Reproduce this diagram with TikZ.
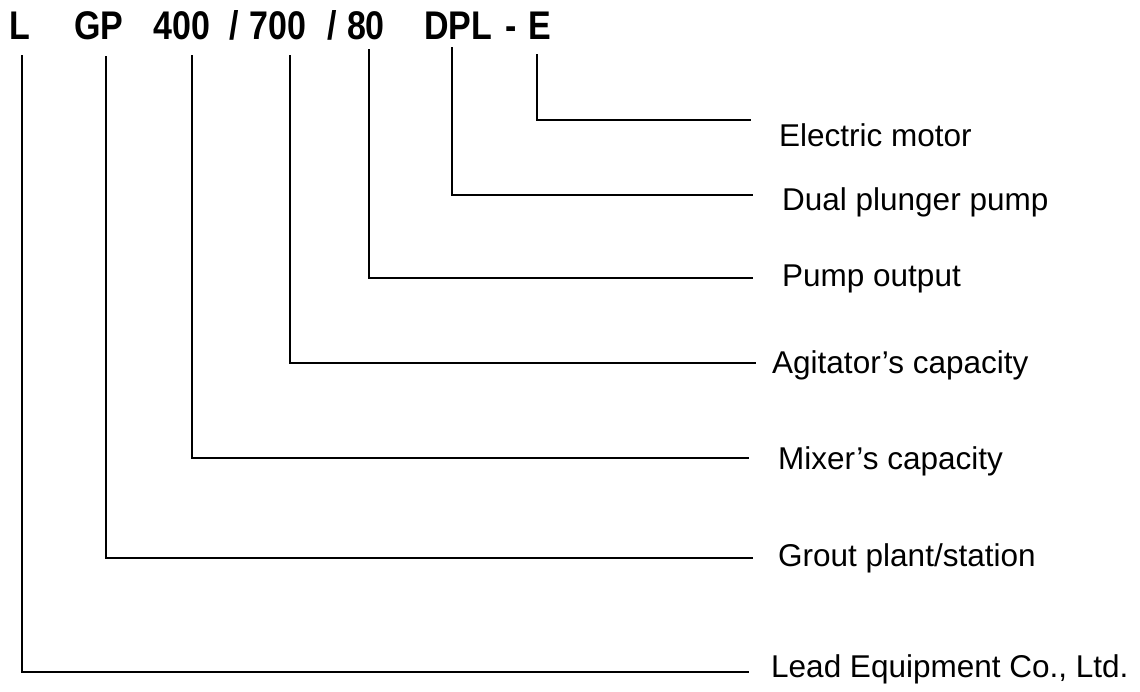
\documentclass[tikz,border=0pt]{standalone}
\usepackage{fontspec}
\setmainfont{Liberation Sans}
\newcommand{\hdrtxt}[1]{\scalebox{0.85}[1]{#1}}
\begin{document}
\begin{tikzpicture}[x=1pt,y=-1pt,
  hdr/.style={inner sep=0pt, anchor=base, font=\fontsize{40}{44}\selectfont\bfseries},
  lab/.style={inner sep=0pt, anchor=west, font=\fontsize{31.5}{36}\selectfont},
  lead/.style={line width=1.6pt, line cap=rect}]
\useasboundingbox (0,0) rectangle (1140,692);
% header code
\node[hdr] (hL)   at (20,40)  {\hdrtxt{L}};
\node[hdr] (hGP)  at (99,40)  {\hdrtxt{GP}};
\node[hdr] (h400) at (182,40) {\hdrtxt{400}};
\node[hdr] (hs1)  at (234,40) {\hdrtxt{/}};
\node[hdr] (h700) at (278,40) {\hdrtxt{700}};
\node[hdr] (hs2)  at (332,40) {\hdrtxt{/}};
\node[hdr] (h80)  at (366,40) {\hdrtxt{80}};
\node[hdr] (hDPL) at (458,40) {\hdrtxt{DPL}};
\node[hdr] (hm)   at (511,40) {\hdrtxt{-}};
\node[hdr] (hE)   at (540,40) {\hdrtxt{E}};
% top ends of the leaders
\coordinate (tL)   at (22,56);
\coordinate (tGP)  at (106,57);
\coordinate (t400) at (192,56);
\coordinate (t700) at (290,56);
\coordinate (t80)  at (369,50);
\coordinate (tDPL) at (452,48);
\coordinate (tE)   at (537,55);
% right ends of the leaders
\coordinate (eE)   at (750,120);
\coordinate (eDPL) at (752,195);
\coordinate (e80)  at (752,278);
\coordinate (e700) at (755,363);
\coordinate (e400) at (748,458);
\coordinate (eGP)  at (752,558);
\coordinate (eL)   at (748,672);
% labels
\node[lab] (lE)   at (779,135) {Electric motor};
\node[lab] (lDPL) at (782,202) {Dual plunger pump};
\node[lab] (l80)  at (782,279) {Pump output};
\node[lab] (l700) at (772,365) {Agitator’s capacity};
\node[lab] (l400) at (778,461) {Mixer’s capacity};
\node[lab] (lGP)  at (778,558) {Grout plant/station};
\node[lab] (lL)   at (771,669) {Lead Equipment Co., Ltd.};
% leaders
\draw[lead] (tE)   |- (eE);
\draw[lead] (tDPL) |- (eDPL);
\draw[lead] (t80)  |- (e80);
\draw[lead] (t700) |- (e700);
\draw[lead] (t400) |- (e400);
\draw[lead] (tGP)  |- (eGP);
\draw[lead] (tL)   |- (eL);
\end{tikzpicture}
\end{document}
